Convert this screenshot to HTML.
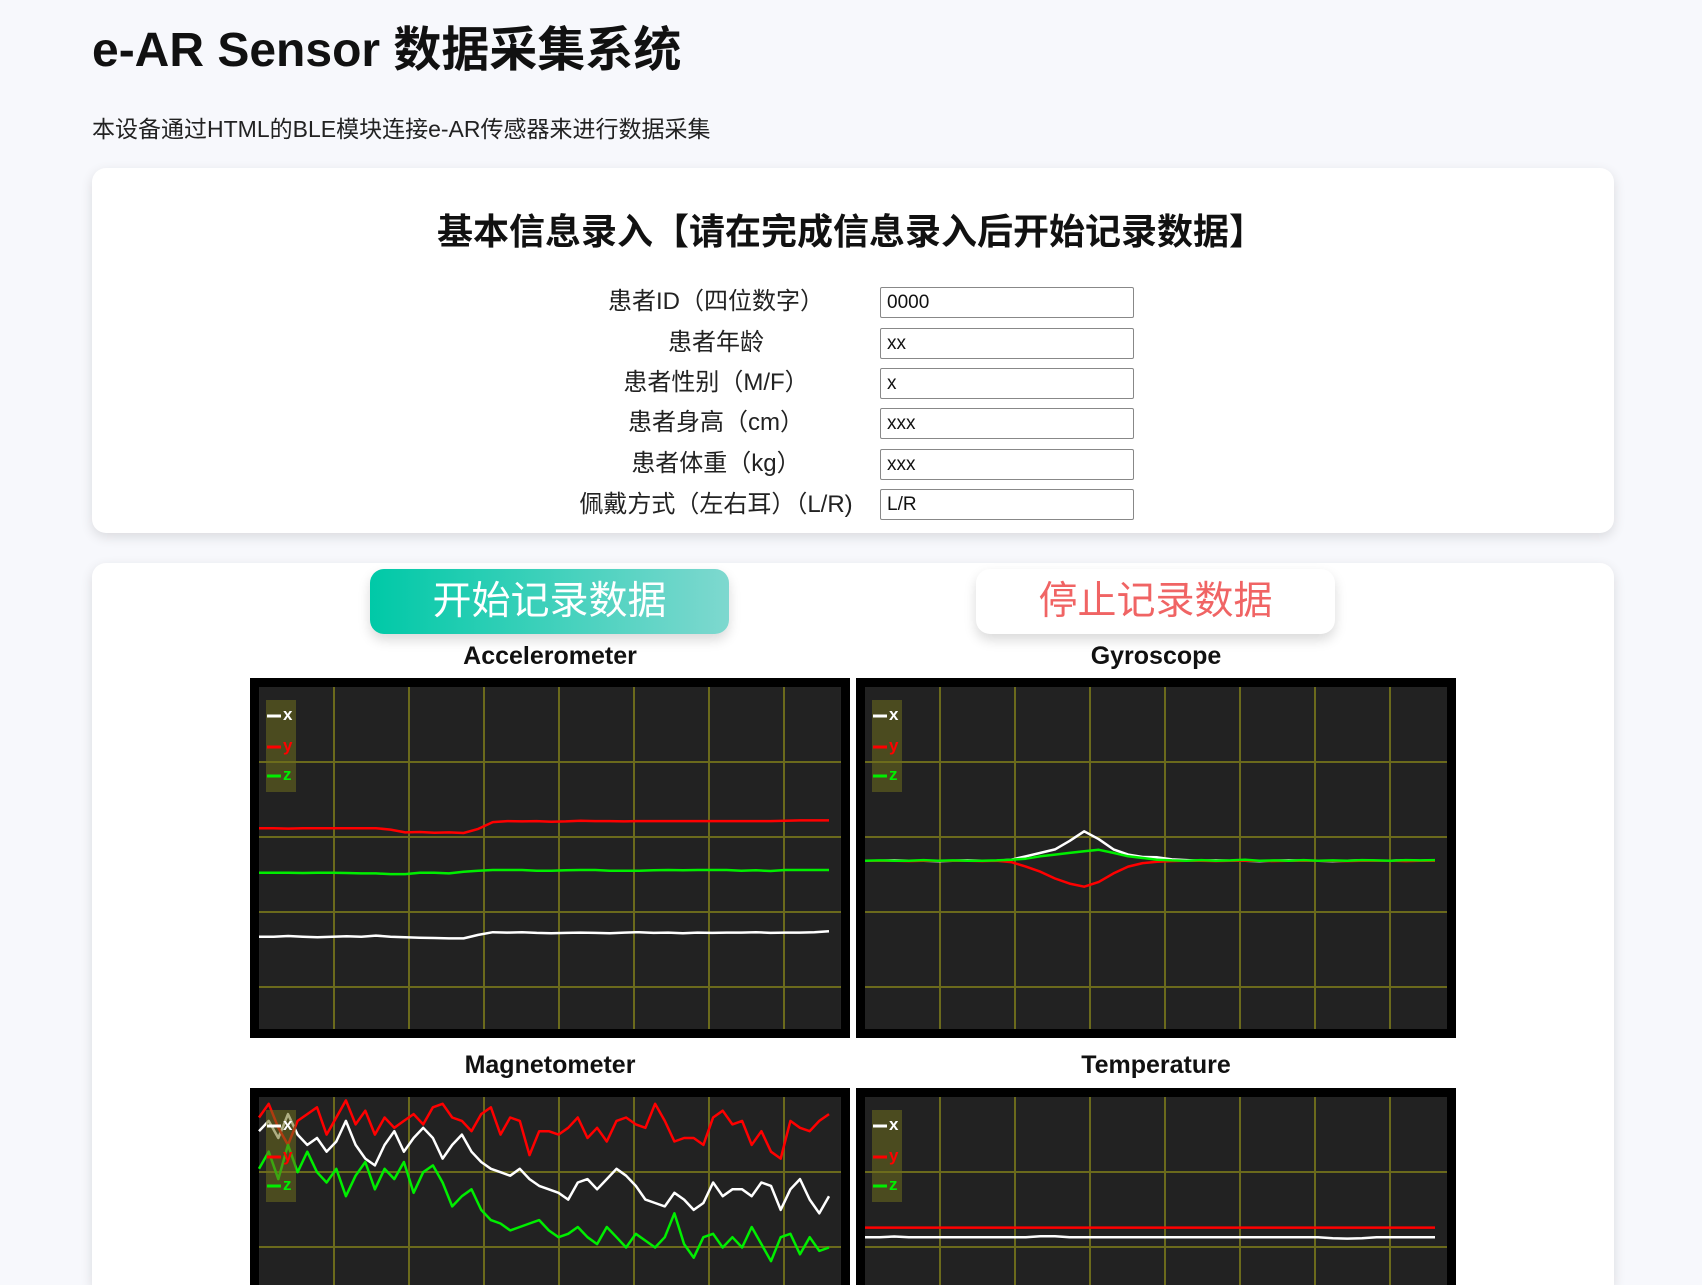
<!DOCTYPE html>
<html><head><meta charset="utf-8">
<style>
html,body{margin:0;width:1702px;height:1285px;overflow:hidden}
body{background:#f7f8fc;font-family:"Liberation Sans","Noto Sans CJK SC",sans-serif;position:relative}
#wrap{position:absolute;left:0;top:0;width:1702px;height:1285px;overflow:hidden}
.abs{position:absolute}
h1{position:absolute;left:92px;top:10px;margin:0;font-size:48px;font-weight:bold;color:#111}
.sub{left:92px;top:110px;font-size:23px;color:#222}
.card{position:absolute;background:#fff;border-radius:14px;box-shadow:0 4px 12px rgba(0,0,0,0.12)}
.ct{position:absolute;left:0;width:1702px;top:203px;text-align:center;font-size:36px;font-weight:bold;color:#111}
.lbl{position:absolute;width:300px;left:566px;text-align:center;font-size:24px;color:#222;line-height:32px}
.inp{position:absolute;left:880px;width:254px;height:31px;border:1px solid #888;border-radius:2px;font-size:19px;padding-left:6px;box-sizing:border-box;line-height:29px;color:#111;background:#fff}
.btn{position:absolute;top:569px;width:359px;height:65px;border-radius:14px;font-size:39px;text-align:center;line-height:65px;box-shadow:0 6px 12px rgba(0,0,0,0.15)}
.tt{position:absolute;width:600px;text-align:center;font-size:25px;font-weight:bold;color:#111}
svg{position:absolute;overflow:hidden}
</style></head><body>
<div id="wrap">
<h1>e-AR Sensor 数据采集系统</h1>
<div class="abs sub">本设备通过HTML的BLE模块连接e-AR传感器来进行数据采集</div>
<div class="card" style="left:92px;top:168px;width:1522px;height:365px"></div>
<div class="ct">基本信息录入【请在完成信息录入后开始记录数据】</div>
<div class="lbl" style="top:286px">患者ID（四位数字）</div>
<div class="inp" style="top:287px">0000</div>
<div class="lbl" style="top:327px">患者年龄</div>
<div class="inp" style="top:328px">xx</div>
<div class="lbl" style="top:367px">患者性别（M/F）</div>
<div class="inp" style="top:368px">x</div>
<div class="lbl" style="top:407px">患者身高（cm）</div>
<div class="inp" style="top:408px">xxx</div>
<div class="lbl" style="top:448px">患者体重（kg）</div>
<div class="inp" style="top:449px">xxx</div>
<div class="lbl" style="top:489px">佩戴方式（左右耳）（L/R)</div>
<div class="inp" style="top:489px">L/R</div>

<div class="card" style="left:92px;top:563px;width:1522px;height:722px;border-bottom-left-radius:0;border-bottom-right-radius:0"></div>
<div class="btn" style="left:370px;background:linear-gradient(90deg,#00c9a7,#7ed8cf);color:#fff">开始记录数据</div>
<div class="btn" style="left:976px;background:#fff;color:#f06464">停止记录数据</div>

<div class="tt" style="left:250px;top:642px">Accelerometer</div>
<div class="tt" style="left:856px;top:642px">Gyroscope</div>
<div class="tt" style="left:250px;top:1051px">Magnetometer</div>
<div class="tt" style="left:856px;top:1051px">Temperature</div>

<svg id="c-acc" style="left:250px;top:678px" width="600" height="360"></svg>
<svg id="c-gyr" style="left:856px;top:678px" width="600" height="360"></svg>
<svg id="c-mag" style="left:250px;top:1088px" width="600" height="197"></svg>
<svg id="c-tmp" style="left:856px;top:1088px" width="600" height="197"></svg>
</div>
<script>
const seriesNames = ["x","y","z"];
const accX = [27,27,27.2,27,26.8,27,27.1,27,27.3,27,26.8,26.7,26.6,26.5,26.5,27.5,28.3,28.2,28.3,28.1,28,28.1,28.2,28.1,28,28.2,28.3,28.1,28.2,28,28.2,28.1,28.2,28.2,28.3,28.1,28.2,28.2,28.3,28.6];
const accY = [58.7,58.7,58.6,58.7,58.7,58.7,58.7,58.7,58.7,58.3,57.5,57.6,57.4,57.5,57.3,58.5,60.5,60.8,60.7,60.8,60.6,60.7,60.9,60.8,60.8,60.7,60.8,60.8,60.8,60.8,60.8,60.8,60.8,60.8,60.8,60.8,60.9,61,61,61];
const accZ = [45.7,45.7,45.7,45.6,45.7,45.7,45.6,45.5,45.5,45.3,45.3,45.7,45.7,45.5,46,46.3,46.5,46.5,46.5,46.3,46.3,46.4,46.5,46.5,46.3,46.3,46.3,46.4,46.5,46.4,46.5,46.5,46.5,46.3,46.4,46.2,46.5,46.5,46.5,46.5];
const gyrX = [49.2,49.2,49.3,49.2,49.2,49.1,49.2,49.3,49.2,49.2,49.5,50.5,51.5,52.5,55,57.8,55.5,52.5,51,50.3,50.2,49.6,49.4,49.2,49.3,49.2,49.2,49.1,49.2,49.3,49.2,49.2,49.1,49.2,49.3,49.2,49.2,49.3,49.2,49.3];
const gyrY = [49.2,49.2,49.2,49.1,49.2,49.2,49.2,49.2,49.1,49.2,48.8,47.5,46,44,42.5,41.6,43,45.5,47.5,48.5,48.9,49.1,49.2,49.2,49.1,49.2,49.2,49.2,49.1,49.2,49.2,49.2,49.2,49.1,49.2,49.2,49.2,49.1,49.2,49.2];
const gyrZ = [49.2,49.3,49.2,49.2,49.4,49.2,49.3,49.2,49.2,49.3,49.5,49.8,50.5,51,51.5,52,52.4,51.5,50.5,50,49.5,49.3,49.2,49.4,49.2,49.3,49.5,49.2,49.3,49.2,49.4,49.2,49.3,49.2,49.4,49.3,49.2,49.4,49.3,49.4];
const magX = [90,93,88,95,89,86,88,84,87,93,86,82,80,86,90,84,88,91,88,82,86,89,84,81,79,78,77,79,76,74,73,72,70,75,76,73,76,79,77,74,70,69,68,72,70,67,69,75,71,73,73,71,75,74,67,73,76,70,66,71];
const magY = [94,98,91,86,93,95,97,89,94,99,92,96,89,94,91,93,95,92,97,98,94,93,90,95,97,89,94,93,83,90,90,89,91,94,88,91,87,93,94,92,91,98,93,87,88,88,86,94,96,92,93,86,90,84,82,93,91,90,93,95];
const magZ = [79,84,76,86,78,84,78,75,79,71,77,81,73,79,76,81,72,78,80,75,68,71,73,67,64,63,61,62,63,64,61,59,60,62,59,57,62,59,56,60,58,56,59,66,57,53,59,60,56,59,56,62,57,52,59,60,54,59,55,56];
const tmpX = [59,59,59.2,59,59,59,59,59,59,59,59,59,59.3,59.3,59,59,59,59,59,59,59,59,59,59,59,59,59,59,59,59,59,59,58.7,58.6,58.7,59,59,59,59,59];
const tmpY = [61.8,61.8,61.8,61.8,61.8,61.8,61.8,61.8,61.8,61.8,61.8,61.8,61.8,61.8,61.8,61.8,61.8,61.8,61.8,61.8,61.8,61.8,61.8,61.8,61.8,61.8,61.8,61.8,61.8,61.8,61.8,61.8,61.8,61.8,61.8,61.8,61.8,61.8,61.8,61.8];

const colors = ["#ffffff","#ff0000","#00ee00"];
const NS = "http://www.w3.org/2000/svg";
const IN = 9, IW = 582, IH = 342, PW = 570;
function xScale(i, n){ return IN + i/(n-1)*PW; }
function yScale(v){ return IN + IH*(1 - v/100); }
function mk(tag, attrs){ const e=document.createElementNS(NS,tag); for(const k in attrs) e.setAttribute(k,attrs[k]); return e; }
function drawChart(id, series, prefix){
  const svg=document.getElementById(id);
  const bg=mk("rect",{x:0,y:0,width:600,height:360,fill:"#000"});
  
  
  svg.appendChild(bg);
  const inner=mk("rect",{x:IN,y:IN,width:IW,height:IH,fill:"#222"});
  
  
  svg.appendChild(inner);
  for(let k=1;k<8;k++){
    const l=mk("line",{x1:IN+k*75,x2:IN+k*75,y1:IN,y2:IN+IH,stroke:"#6b6a1c","stroke-width":2});
    
    
    svg.appendChild(l);
  }
  for(let k=1;k<5;k++){
    const l=mk("line",{x1:IN,x2:IN+IW,y1:IN+k*75,y2:IN+k*75,stroke:"#6b6a1c","stroke-width":2});
    
    
    svg.appendChild(l);
  }
  series.forEach((s,si)=>{
    const pts=s.map((v,i)=>xScale(i,s.length).toFixed(1)+","+yScale(v).toFixed(1)).join(" ");
    const p=mk("polyline",{points:pts,fill:"none",stroke:colors[si],"stroke-width":2.5,"stroke-linejoin":"round"});
    
    
    svg.appendChild(p);
  });
  const lg=mk("rect",{x:16,y:22,width:30,height:92,fill:"rgba(110,110,30,0.55)"});
  
  
  svg.appendChild(lg);
  seriesNames.forEach((n,si)=>{
    const y=[34,65,94][si];
    const ln=mk("line",{x1:17,x2:31,y1:y+4,y2:y+4,stroke:colors[si],"stroke-width":3});
    
    
    svg.appendChild(ln);
    const t=mk("text",{x:33,y:y+8,fill:colors[si],"font-size":17,"font-weight":"bold","font-family":"Liberation Sans, sans-serif"});
    t.textContent=n;
    
    
    svg.appendChild(t);
  });
}
drawChart("c-acc",[accX,accY,accZ],"accelerometer");
drawChart("c-gyr",[gyrX,gyrY,gyrZ],"gyroscope");
drawChart("c-mag",[magX,magY,magZ],"magnetometer");
drawChart("c-tmp",[tmpX,tmpY],"temperature");
</script>
</body></html>
